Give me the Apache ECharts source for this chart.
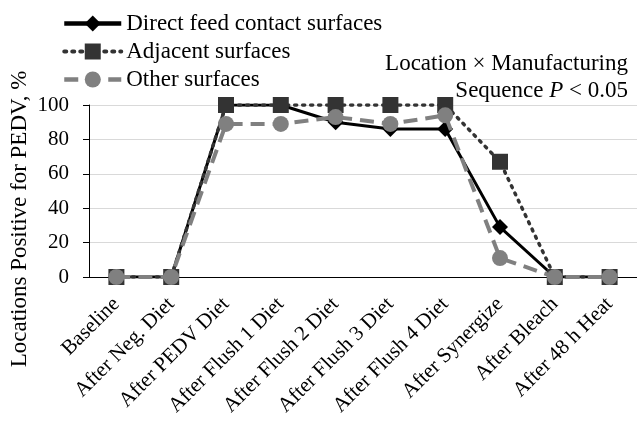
<!DOCTYPE html>
<html>
<head>
<meta charset="utf-8">
<script src="https://cdn.jsdelivr.net/npm/echarts@6/dist/echarts.min.js"></script>
<style>html,body{margin:0;padding:0;background:#fff}#c{width:637px;height:425px}</style>
</head>
<body>
<div id="c"></div>
<script>
var categories = ['Baseline','After Neg. Diet','After PEDV Diet','After Flush 1 Diet','After Flush 2 Diet','After Flush 3 Diet','After Flush 4 Diet','After Synergize','After Bleach','After 48 h Heat'];
var directFeed = [0,0,100,100,90,86,86,29,0,0];
var adjacent = [0,0,100,100,100,100,100,67,0,0];
var other = [0,0,89,89,93,89,94,11,0,0];
var yTicks = [0,20,40,60,80,100];

var FF = '"Liberation Serif","Times New Roman",serif';
var chart = echarts.init(document.getElementById('c'));
chart.setOption({
  animation:false,
  backgroundColor:'#fff',
  textStyle:{fontFamily:FF},
  grid:{left:89,right:0,top:105,bottom:148,containLabel:false},
  legend:{
    orient:'vertical',left:57,top:7,itemWidth:57,itemHeight:20,itemGap:5,
    textStyle:{fontFamily:FF,fontSize:23,color:'#000'},
    data:[
      {name:'Direct feed contact surfaces',lineStyle:{width:4.5}},
      {name:'Adjacent surfaces',lineStyle:{width:4}},
      {name:'Other surfaces',lineStyle:{width:4.5}}
    ]
  },
  graphic:[
    {type:'text',x:20,y:219,rotation:Math.PI/2,style:{text:'Locations Positive for PEDV, %',fontFamily:FF,fontSize:23,fill:'#000',textAlign:'center',textVerticalAlign:'middle'}},
    {type:'text',right:9,top:52,style:{text:'Location × Manufacturing',fontFamily:FF,fontSize:23,fill:'#000'}},
    {type:'text',right:9,top:79,style:{rich:{n:{fontFamily:FF,fontSize:23,fill:'#000'},i:{fontFamily:FF,fontSize:23,fontStyle:'italic',fill:'#000'}},text:'{n|Sequence }{i|P}{n| < 0.05}',fontFamily:FF,fontSize:23}}
  ],
  xAxis:{
    type:'category',data:categories,boundaryGap:true,
    axisLine:{lineStyle:{color:'#000',width:1}},
    axisTick:{show:false},
    axisLabel:{rotate:45,fontFamily:FF,fontSize:21,color:'#000',margin:24,interval:0}
  },
  yAxis:{
    type:'value',min:0,max:100,interval:20,
    axisLine:{show:true,lineStyle:{color:'#000',width:1}},
    axisTick:{show:true,length:6,lineStyle:{color:'#000'}},
    axisLabel:{fontFamily:FF,fontSize:21,color:'#000',margin:20,formatter:function(v){return yTicks.indexOf(v)>=0?String(v):'';}},
    splitLine:{lineStyle:{color:'#d9d9d9',width:1}}
  },
  series:[
    {name:'Direct feed contact surfaces',type:'line',data:directFeed,symbol:'diamond',symbolSize:16,
     lineStyle:{color:'#000',width:3},itemStyle:{color:'#000'},z:2},
    {name:'Adjacent surfaces',type:'line',data:adjacent,symbol:'rect',symbolSize:16,
     lineStyle:{color:'#333',width:3.5,type:[2,6],cap:'round'},itemStyle:{color:'#333'},z:3},
    {name:'Other surfaces',type:'line',data:other,symbol:'circle',symbolSize:16,
     lineStyle:{color:'#808080',width:4,type:[14,8]},itemStyle:{color:'#808080'},z:4}
  ]
});
</script>
</body>
</html>
